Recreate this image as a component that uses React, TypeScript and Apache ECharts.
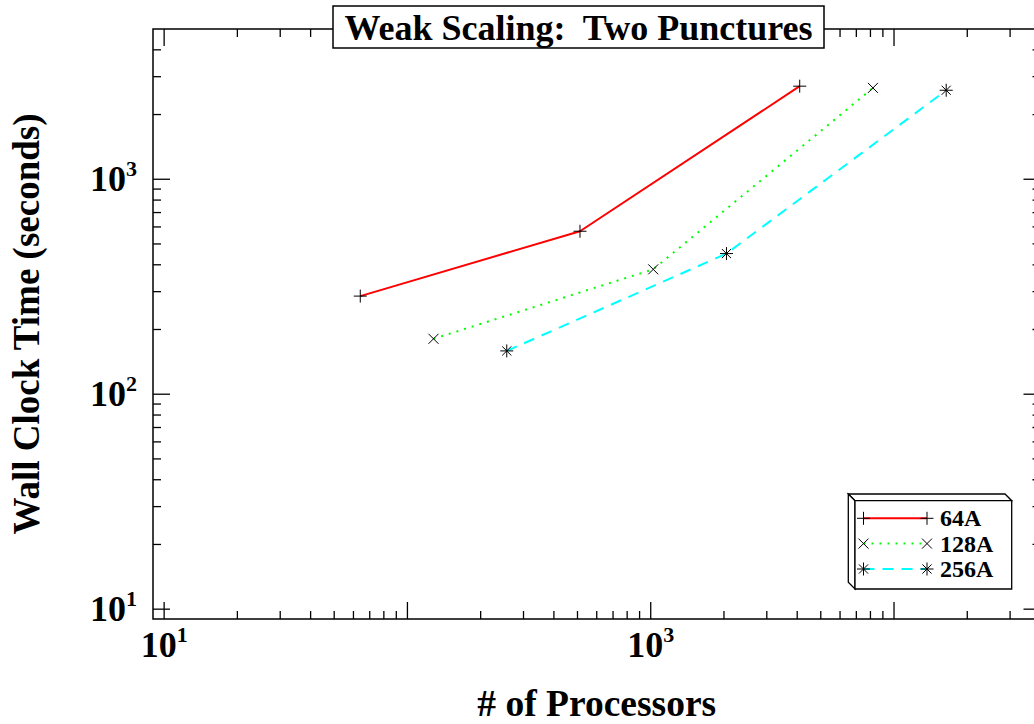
import React, { useEffect, useRef } from "react";
import * as echarts from "echarts";

// ---- data ----
const SERIES_NAMES = ["64A", "128A", "256A"];
const PROCS_64 = [64, 512, 4096];
const TIME_64 = [286, 573, 2710];
const PROCS_128 = [128, 1024, 8192];
const TIME_128 = [181, 381, 2660];
const PROCS_256 = [256, 2048, 16384];
const TIME_256 = [159, 451, 2594];

const X_MIN = 9;
const X_MAX = 40000;
const Y_MIN = 9;
const Y_MAX = 5000;
const LABELED_X_EXPONENTS = [1, 3];
const LABELED_Y_EXPONENTS = [1, 2, 3];
const TICK_MANTISSAS = [1, 2, 3, 4, 5, 6, 7, 8, 9];
const TICK_EXPONENTS = [0, 1, 2, 3, 4, 5];

const FONT = "'Liberation Serif', 'Times New Roman', serif";

const SYM_PLUS = "path://M6,0L6,12M0,6L12,6";
const SYM_X = "path://M0,0L10,10M10,0L0,10";
const SYM_STAR = "path://M6,0L6,12M0,6L12,6M1.8,1.8L10.2,10.2M10.2,1.8L1.8,10.2";

const COLORS = ["#ff0000", "#00ff00", "#00ffff"];
const DASHES: any[] = ["solid", [2, 6], [11, 8]];
const SYMBOLS = [SYM_PLUS, SYM_X, SYM_STAR];
const SYMBOL_SIZES = [13, 10, 13];

function zip(xs: number[], ys: number[]) {
  return xs.map((x, i) => [x, ys[i]]);
}

function buildTicks() {
  const out: number[][] = [];
  for (const e of TICK_EXPONENTS) {
    for (const m of TICK_MANTISSAS) {
      const v = m * Math.pow(10, e);
      const major = m === 1 ? 1 : 0;
      if (v > X_MIN * 1.001 && v < X_MAX * 0.999) out.push([v, Y_MIN, 0, major]);
      if (v > Y_MIN * 1.001 && v < Y_MAX * 0.999) out.push([X_MIN, v, 1, major]);
    }
  }
  return out;
}

function powLabel(allowed: number[]) {
  return (v: number) => {
    const e = Math.log10(v);
    const r = Math.round(e);
    if (Math.abs(e - r) < 1e-6 && allowed.indexOf(r) >= 0) return `{b|10}{s|${r}}`;
    return "";
  };
}

const richLabel = {
  b: { fontFamily: FONT, fontWeight: "bold", fontSize: 36, color: "#000" },
  s: { fontFamily: FONT, fontWeight: "bold", fontSize: 22, color: "#000", padding: [0, 0, 21, 0] },
};

function markerLines(kind: number, cx: number, cy: number): any[] {
  const st = { stroke: "#000", lineWidth: 1 };
  const mk = (x1: number, y1: number, x2: number, y2: number) => ({
    type: "line",
    shape: { x1: cx + x1, y1: cy + y1, x2: cx + x2, y2: cy + y2 },
    style: st,
    z: 102,
  });
  if (kind === 0) return [mk(-6.5, 0, 6.5, 0), mk(0, -6.5, 0, 6.5)];
  if (kind === 1) return [mk(-5, -5, 5, 5), mk(5, -5, -5, 5)];
  return [mk(-6.5, 0, 6.5, 0), mk(0, -6.5, 0, 6.5), mk(-4.6, -4.6, 4.6, 4.6), mk(4.6, -4.6, -4.6, 4.6)];
}

function buildLegend(): any[] {
  const els: any[] = [];
  const boxStyle = { fill: "#fff", stroke: "#000", lineWidth: 1.3 };
  const L = 855, R = 1011.7, T = 500.7, B = 589, d = 6.7;
  els.push({ type: "polygon", shape: { points: [[L - d, T - d], [R - d, T - d], [R, T], [L, T]] }, style: boxStyle, z: 100 });
  els.push({ type: "polygon", shape: { points: [[L - d, T - d], [L, T], [L, B], [L - d, B - d]] }, style: boxStyle, z: 100 });
  els.push({ type: "rect", shape: { x: L, y: T, width: R - L, height: B - T }, style: boxStyle, z: 100 });
  const rows = [518.3, 543.6, 569];
  SERIES_NAMES.forEach((name, i) => {
    const y = rows[i];
    els.push({
      type: "line",
      shape: { x1: 863.5, y1: y, x2: 927, y2: y },
      style: { stroke: COLORS[i], lineWidth: 2, lineDash: DASHES[i] === "solid" ? null : DASHES[i] },
      z: 101,
    });
    els.push(...markerLines(i, 863.5, y));
    els.push(...markerLines(i, 927, y));
    els.push({
      type: "text",
      x: 940,
      y: y,
      style: { text: name, fontFamily: FONT, fontWeight: "bold", fontSize: 24, fill: "#000", textVerticalAlign: "middle", textAlign: "left" },
      z: 102,
    });
  });
  return els;
}

export default function App() {
  const ref = useRef<HTMLDivElement>(null);
  useEffect(() => {
    if (!ref.current) return;
    const chart = echarts.init(ref.current, null, { renderer: "svg" });
    const ticks = buildTicks();
    const dataSets = [zip(PROCS_64, TIME_64), zip(PROCS_128, TIME_128), zip(PROCS_256, TIME_256)];
    const option: any = {
      animation: false,
      backgroundColor: "#fff",
      grid: {
        left: 153,
        top: 29,
        width: 887.5,
        height: 590,
        show: true,
        borderColor: "#000",
        borderWidth: 1.5,
        backgroundColor: "transparent",
        containLabel: false,
        outerBoundsMode: "none",
      },
      xAxis: {
        type: "log",
        logBase: 10,
        min: X_MIN,
        max: X_MAX,
        axisLine: { show: false },
        axisTick: { show: false },
        splitLine: { show: false },
        axisLabel: { formatter: powLabel(LABELED_X_EXPONENTS), rich: richLabel, margin: 4, showMinLabel: true, showMaxLabel: true, hideOverlap: false },
        name: "# of Processors",
        nameLocation: "middle",
        nameGap: 84,
        nameTextStyle: { fontFamily: FONT, fontWeight: "bold", fontSize: 37.5, color: "#000", verticalAlign: "middle" },
      },
      yAxis: {
        type: "log",
        logBase: 10,
        min: Y_MIN,
        max: Y_MAX,
        axisLine: { show: false },
        axisTick: { show: false },
        splitLine: { show: false },
        axisLabel: { formatter: powLabel(LABELED_Y_EXPONENTS), rich: richLabel, margin: 16, hideOverlap: false },
        name: "Wall Clock Time (seconds)",
        nameLocation: "middle",
        nameGap: 127,
        nameRotate: 90,
        nameTextStyle: { fontFamily: FONT, fontWeight: "bold", fontSize: 37, color: "#000", verticalAlign: "middle", align: "center" },
      },
      series: [
        ...dataSets.map((data, i) => ({
          type: "line",
          name: SERIES_NAMES[i],
          data,
          symbol: SYMBOLS[i],
          symbolSize: SYMBOL_SIZES[i],
          showAllSymbol: true,
          lineStyle: { color: COLORS[i], width: 2, type: DASHES[i], cap: "butt" },
          itemStyle: { color: "rgba(0,0,0,0)", borderColor: "#000", borderWidth: 1 },
          z: 3,
        })),
        {
          type: "custom",
          name: "ticks",
          silent: true,
          clip: false,
          data: ticks,
          encode: { x: 0, y: 1 },
          z: 2,
          renderItem: (params: any, api: any) => {
            const cs = params.coordSys;
            const v = api.value(0);
            const w = api.value(1);
            const kind = api.value(2);
            const len = api.value(3) ? 17 : 8;
            const st = { stroke: "#000", lineWidth: 1.3 };
            if (kind === 0) {
              const px = api.coord([v, Y_MIN])[0];
              const b = cs.y + cs.height;
              return {
                type: "group",
                children: [
                  { type: "line", shape: { x1: px, y1: b, x2: px, y2: b - len }, style: st },
                  { type: "line", shape: { x1: px, y1: cs.y, x2: px, y2: cs.y + len }, style: st },
                ],
              };
            }
            const py = api.coord([X_MIN, w])[1];
            const r = cs.x + cs.width;
            return {
              type: "group",
              children: [
                { type: "line", shape: { x1: cs.x, y1: py, x2: cs.x + len, y2: py }, style: st },
                { type: "line", shape: { x1: r, y1: py, x2: r - len, y2: py }, style: st },
              ],
            };
          },
        },
      ],
      graphic: [
        {
          type: "group",
          z: 100,
          children: [
            { type: "rect", shape: { x: 333, y: 6, width: 491, height: 42 }, style: { fill: "#fff", stroke: "#000", lineWidth: 1.5 }, z: 100 },
            {
              type: "text",
              x: 578.5,
              y: 27.5,
              style: { text: "Weak Scaling:  Two Punctures", fontFamily: FONT, fontWeight: "bold", fontSize: 36, fill: "#000", textAlign: "center", textVerticalAlign: "middle" },
              z: 101,
            },
          ],
        },
        ...buildLegend(),
      ],
    };
    chart.setOption(option);
    return () => chart.dispose();
  }, []);
  return <div ref={ref} style={{ position: "absolute", left: 0, top: 0, width: 1034, height: 724 }} />;
}
